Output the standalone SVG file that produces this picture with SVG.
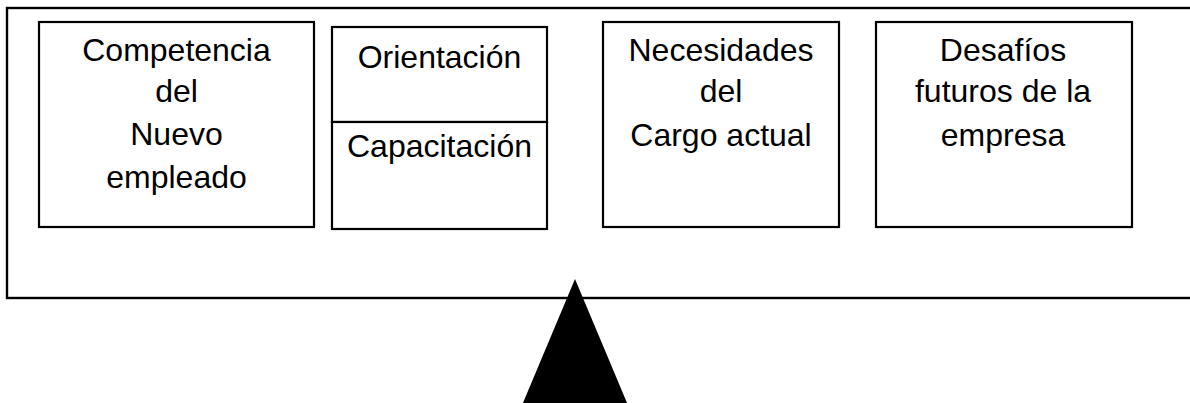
<svg xmlns="http://www.w3.org/2000/svg" width="1190" height="403" viewBox="0 0 1190 403">
<style>
.box{fill:#fff;stroke:#000;stroke-width:2.2}
.t{font-family:"Liberation Sans",Arial,sans-serif;font-size:32px;fill:#000;text-anchor:middle}
</style>
<rect width="1190" height="403" fill="#fff"/>
<g id="plate">
<rect x="7" y="8" width="1200" height="290" fill="#fff" stroke="#000" stroke-width="2.4"/>
</g>
<g id="competencia">
<rect class="box" x="39" y="22" width="275" height="205"/>
<text class="t" x="176.5" y="61">Competencia</text>
<text class="t" x="176.5" y="102">del</text>
<text class="t" x="176.5" y="145">Nuevo</text>
<text class="t" x="176.5" y="188">empleado</text>
</g>
<g id="orientacion">
<rect class="box" x="332" y="27" width="215" height="95"/>
<text class="t" x="439.5" y="68">Orientación</text>
</g>
<g id="capacitacion">
<rect class="box" x="332" y="122" width="215" height="107"/>
<text class="t" x="439.5" y="157">Capacitación</text>
</g>
<g id="necesidades">
<rect class="box" x="603" y="22" width="236" height="205"/>
<text class="t" x="721" y="61">Necesidades</text>
<text class="t" x="721" y="102">del</text>
<text class="t" x="721" y="146">Cargo actual</text>
</g>
<g id="desafios">
<rect class="box" x="876" y="22" width="256" height="205"/>
<text class="t" x="1003" y="61">Desafíos</text>
<text class="t" x="1003" y="102">futuros de la</text>
<text class="t" x="1003" y="146">empresa</text>
</g>
<g id="connectors">
<polygon id="fulcrum" points="575,279 630,410 520,410" fill="#000"/>
</g>
</svg>
